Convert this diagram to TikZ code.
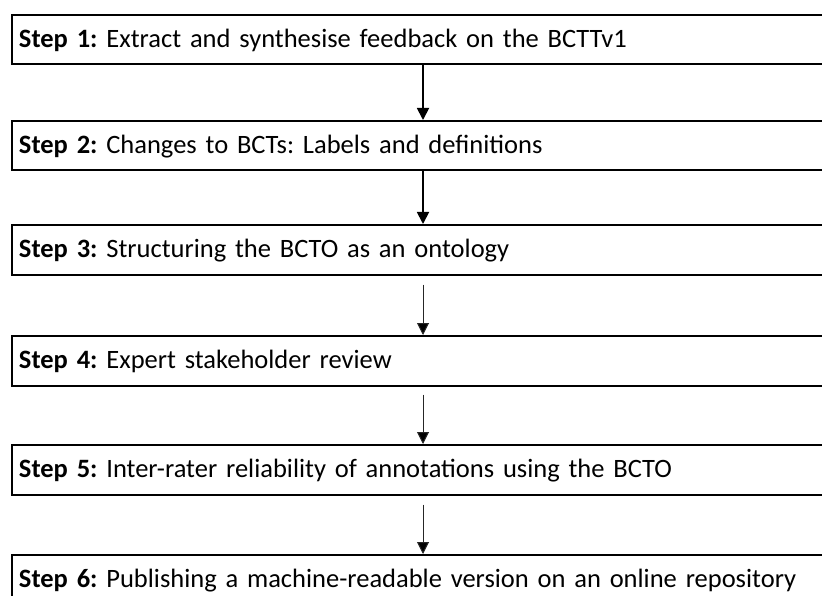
\documentclass[tikz,border=0pt]{standalone}
\usepackage{fontspec}
\setmainfont{Carlito}
\usetikzlibrary{arrows.meta}
\begin{document}
\frenchspacing
\begin{tikzpicture}[x=1pt,y=1pt,
  stepbox/.style={draw=black, line width=2pt, anchor=north west,
    minimum height=49.5pt, text width=810pt, align=left,
    inner xsep=7pt, inner ysep=0pt, text height=20pt, text depth=4pt,
    font=\fontsize{26.5}{31}\selectfont},
  thickarrow/.style={draw=black, line width=1.8pt, -{Triangle[width=12pt,length=12pt]}},
  thinarrow/.style={draw=black!85, line width=1pt, -{Triangle[width=12pt,length=12pt,fill=black]}}
]
\useasboundingbox (0,0) rectangle (822,-596);
\clip (0,0) rectangle (822,-596);
\coordinate (col) at (423,0);
\node[stepbox] (s1) at (11,-14) {\textbf{Step 1:} Extract and synthesise feedback on the BCTTv1};
\node[stepbox] (s2) at (11,-120) {\textbf{Step 2:} Changes to BCTs: Labels and definitions};
\node[stepbox] (s3) at (11,-224) {\textbf{Step 3:} Structuring the BCTO as an ontology};
\node[stepbox] (s4) at (11,-335) {\textbf{Step 4:} Expert stakeholder review};
\node[stepbox] (s5) at (11,-444) {\textbf{Step 5:} Inter-rater reliability of annotations using the BCTO};
\node[stepbox] (s6) at (11,-554) {\textbf{Step 6:} Publishing a machine-readable version on an online repository};
\draw[thickarrow] (s1.south -| col) -- (s2.north -| col);
\draw[thickarrow] (s2.south -| col) -- (s3.north -| col);
\draw[thinarrow] ([yshift=-9pt]s3.south -| col) -- (s4.north -| col);
\draw[thinarrow] ([yshift=-8pt]s4.south -| col) -- (s5.north -| col);
\draw[thinarrow] ([yshift=-9pt]s5.south -| col) -- (s6.north -| col);
\end{tikzpicture}
\end{document}
